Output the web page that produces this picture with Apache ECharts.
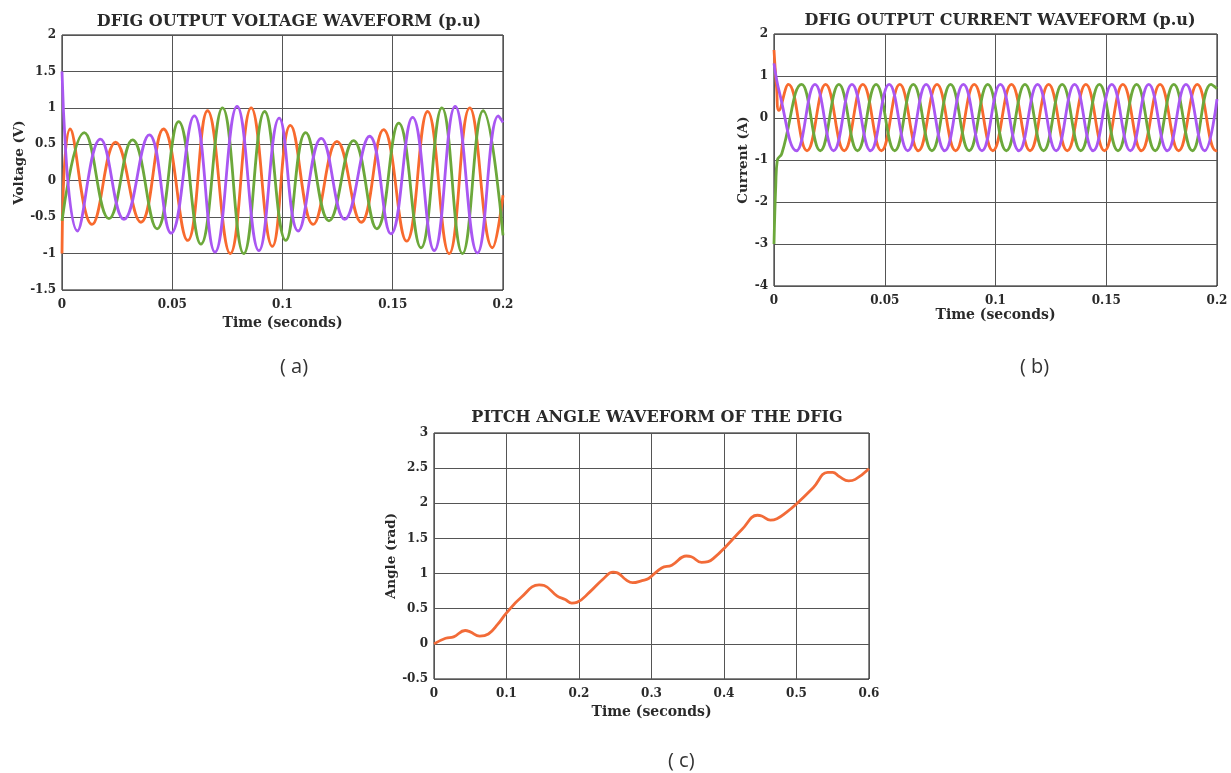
<!DOCTYPE html>
<html>
<head>
<meta charset="utf-8">
<script src="https://cdn.jsdelivr.net/npm/echarts@6/dist/echarts.min.js"></script>
<style>
  html, body { margin: 0; padding: 0; background: #fff; }
  #main { width: 1231px; height: 773px; }
</style>
</head>
<body>
<div id="main"></div>
<script>
// (a) voltage, peaks/troughs: [time s, p.u]
var voltOrange = [[0,-1.0],[0.0037,0.71],[0.0136,-0.6],[0.0243,0.53],[0.0358,-0.57],[0.046,0.71],[0.057,-0.82],[0.066,0.96],[0.0763,-1.0],[0.0858,1.0],[0.0954,-0.9],[0.1036,0.76],[0.1139,-0.6],[0.1247,0.54],[0.1357,-0.57],[0.1458,0.7],[0.1563,-0.83],[0.1658,0.95],[0.1756,-1.0],[0.1849,1.0],[0.1952,-0.92],[0.2,-0.2]];
var voltGreen = [[0,-0.55],[0.0101,0.66],[0.0213,-0.52],[0.032,0.56],[0.0431,-0.66],[0.0529,0.81],[0.063,-0.87],[0.0728,1.0],[0.0824,-1.0],[0.0919,0.95],[0.1015,-0.82],[0.1105,0.66],[0.1211,-0.55],[0.1322,0.55],[0.1428,-0.66],[0.1527,0.79],[0.1628,-0.92],[0.1723,1.0],[0.1816,-1.0],[0.191,0.96],[0.2,-0.75]];
var voltPurple = [[0,1.5],[0.007,-0.69],[0.0174,0.57],[0.0281,-0.53],[0.0396,0.63],[0.0495,-0.72],[0.06,0.89],[0.0694,-0.98],[0.0794,1.02],[0.0893,-0.96],[0.0985,0.86],[0.1071,-0.69],[0.1176,0.58],[0.1282,-0.53],[0.1395,0.61],[0.1492,-0.73],[0.159,0.87],[0.1688,-0.96],[0.1783,1.02],[0.1884,-0.99],[0.1979,0.89],[0.2,0.8]];

// (b) current
var currOrange = [[0,1.62],[0.0012,0.7],[0.0022,0.18],[0.0065,0.8],[0.0149,-0.78],[0.0233,0.8],[0.0317,-0.78],[0.0401,0.8],[0.0485,-0.78],[0.0568,0.8],[0.0652,-0.78],[0.0736,0.8],[0.082,-0.78],[0.0904,0.8],[0.0988,-0.78],[0.1072,0.8],[0.1156,-0.78],[0.124,0.8],[0.1324,-0.78],[0.1408,0.8],[0.1492,-0.78],[0.1575,0.8],[0.1659,-0.78],[0.1743,0.8],[0.1827,-0.78],[0.1911,0.8],[0.1995,-0.78],[0.2,-0.77]];
var currGreen = [[0,-3.0],[0.0008,-1.6],[0.0015,-1.0],[0.0035,-0.85],[0.0125,0.8],[0.0209,-0.78],[0.0293,0.8],[0.0377,-0.78],[0.0461,0.8],[0.0545,-0.78],[0.0629,0.8],[0.0713,-0.78],[0.0797,0.8],[0.0881,-0.78],[0.0965,0.8],[0.1049,-0.78],[0.1133,0.8],[0.1217,-0.78],[0.1301,0.8],[0.1385,-0.78],[0.1469,0.8],[0.1553,-0.78],[0.1637,0.8],[0.1721,-0.78],[0.1805,0.8],[0.1889,-0.78],[0.1973,0.8],[0.2,0.7]];
var currPurple = [[0,1.3],[0.0025,0.6],[0.0101,-0.78],[0.0185,0.8],[0.0269,-0.78],[0.0352,0.8],[0.0436,-0.78],[0.052,0.8],[0.0604,-0.78],[0.0687,0.8],[0.0771,-0.78],[0.0855,0.8],[0.0939,-0.78],[0.1022,0.8],[0.1106,-0.78],[0.119,0.8],[0.1274,-0.78],[0.1357,0.8],[0.1441,-0.78],[0.1525,0.8],[0.1609,-0.78],[0.1692,0.8],[0.1776,-0.78],[0.186,0.8],[0.1944,-0.78],[0.2,0.45]];

// (c) pitch angle [time s, rad]
var pitchAngle = [[0,0],[0.016,0.08],[0.027,0.1],[0.043,0.19],[0.05,0.17],[0.063,0.11],[0.075,0.14],[0.088,0.28],[0.1,0.44],[0.12,0.66],[0.145,0.84],[0.152,0.83],[0.17,0.68],[0.181,0.63],[0.19,0.58],[0.197,0.59],[0.215,0.74],[0.233,0.92],[0.247,1.02],[0.253,1.01],[0.265,0.91],[0.274,0.87],[0.287,0.9],[0.296,0.93],[0.314,1.08],[0.328,1.12],[0.348,1.25],[0.355,1.24],[0.369,1.16],[0.378,1.17],[0.387,1.23],[0.403,1.39],[0.425,1.63],[0.446,1.83],[0.452,1.82],[0.464,1.76],[0.473,1.78],[0.486,1.87],[0.501,2.0],[0.523,2.22],[0.543,2.44],[0.55,2.44],[0.559,2.38],[0.572,2.32],[0.581,2.34],[0.6,2.49]];

var titles = ['DFIG OUTPUT VOLTAGE WAVEFORM (p.u)', 'DFIG OUTPUT CURRENT WAVEFORM (p.u)', 'PITCH ANGLE WAVEFORM OF THE DFIG'];
var yNames = ['Voltage (V)', 'Current (A)', 'Angle (rad)'];
var panelTags = ['( a)', '( b)', '( c)'];

var ORANGE = '#f86a2e', GREEN = '#6ca83b', PURPLE = '#a957f2';
var serif = '"DejaVu Serif", "Liberation Serif", serif';

function xAx(idx, max, interval, gap) {
  return {
    type: 'value', gridIndex: idx, min: 0, max: max, interval: interval,
    name: 'Time (seconds)', nameLocation: 'middle', nameGap: gap,
    nameTextStyle: { fontFamily: serif, fontWeight: 'bold', fontSize: 14, color: '#2a2a2a' },
    axisLine: { show: false }, axisTick: { show: false },
    axisLabel: { fontFamily: serif, fontWeight: 'bold', fontSize: 12, color: '#2a2a2a', margin: 9 },
    splitLine: { show: true, lineStyle: { color: '#555', width: 1 } }
  };
}
function yAx(idx, min, max, interval, name, gap) {
  return {
    type: 'value', gridIndex: idx, min: min, max: max, interval: interval,
    name: name, nameLocation: 'middle', nameGap: gap,
    nameTextStyle: { fontFamily: serif, fontWeight: 'bold', fontSize: 13.5, color: '#2a2a2a' },
    axisLine: { show: false }, axisTick: { show: false },
    axisLabel: { fontFamily: serif, fontWeight: 'bold', fontSize: 12, color: '#2a2a2a', margin: 6 },
    splitLine: { show: true, lineStyle: { color: '#555', width: 1 } }
  };
}
function wave(data, color, idx) {
  return {
    type: 'line', xAxisIndex: idx, yAxisIndex: idx, data: data,
    showSymbol: false, smooth: 0.45, animation: false,
    lineStyle: { color: color, width: 2.8 }, itemStyle: { color: color }
  };
}

var titleStyle = { fontFamily: serif, fontWeight: 'bold', fontSize: 16, color: '#2a2a2a' };

var chart = echarts.init(document.getElementById('main'), null, { renderer: 'canvas' });
chart.setOption({
  backgroundColor: '#fff',
  animation: false,
  title: [
    { text: titles[0], left: 284, top: 9, textAlign: 'center', textStyle: titleStyle },
    { text: titles[1], left: 995, top: 8, textAlign: 'center', textStyle: titleStyle },
    { text: titles[2], left: 652, top: 405, textAlign: 'center', textStyle: titleStyle }
  ],
  grid: [
    { left: 62, top: 35, width: 441, height: 255, show: true, borderColor: '#111', borderWidth: 1 },
    { left: 774, top: 34, width: 443, height: 252, show: true, borderColor: '#111', borderWidth: 1 },
    { left: 434, top: 433, width: 435, height: 246, show: true, borderColor: '#111', borderWidth: 1 }
  ],
  xAxis: [xAx(0, 0.2, 0.05, 26), xAx(1, 0.2, 0.05, 21), xAx(2, 0.6, 0.1, 26)],
  yAxis: [
    yAx(0, -1.5, 2, 0.5, yNames[0], 36),
    yAx(1, -4, 2, 1, yNames[1], 24),
    yAx(2, -0.5, 3, 0.5, yNames[2], 34)
  ],
  series: [
    wave(voltOrange, ORANGE, 0), wave(voltGreen, GREEN, 0), wave(voltPurple, PURPLE, 0),
    wave(currOrange, ORANGE, 1), wave(currGreen, GREEN, 1), wave(currPurple, PURPLE, 1),
    wave(pitchAngle, '#f26b38', 2)
  ],
  graphic: [
    { type: 'text', left: 280, top: 357, style: { text: panelTags[0], font: '20px "Open Sans", sans-serif', fill: '#333' } },
    { type: 'text', left: 1020, top: 357, style: { text: panelTags[1], font: '20px "Open Sans", sans-serif', fill: '#333' } },
    { type: 'text', left: 668, top: 751, style: { text: panelTags[2], font: '20px "Open Sans", sans-serif', fill: '#333' } }
  ]
});
</script>
</body>
</html>
